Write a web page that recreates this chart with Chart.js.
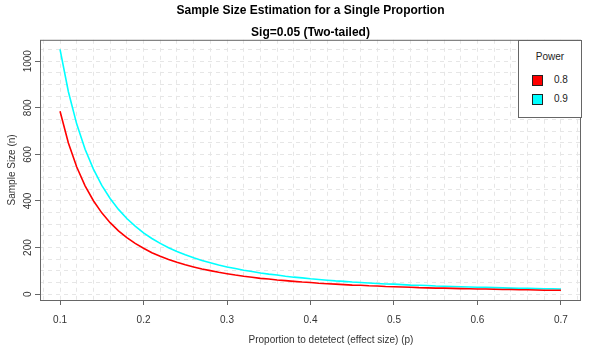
<!DOCTYPE html>
<html>
<head>
  <title>Sample Size Estimation</title>
  <script src="https://cdn.jsdelivr.net/npm/chart.js@4.4.0/dist/chart.umd.min.js"></script>
  <style>
    body { margin: 0; background: #fff; font-family: "Liberation Sans", Arial, sans-serif; }
    #wrap { position: relative; width: 602px; height: 352px; }
    #legend { position: absolute; left: 518px; top: 40px; width: 62px; height: 76px;
              border: 1px solid #666; background: #fff; font-size: 10px; color: #222; }
    #legend .ttl { position: absolute; left: 0; width: 62px; top: 10px; text-align: center; }
    #legend .sw { position: absolute; left: 13px; width: 9px; height: 9px; border: 1px solid #222; }
    #legend .lb { position: absolute; left: 35px; }
    #xtitle { position: absolute; left: 231px; width: 200px; top: 334px; text-align: center;
              font-size: 10px; color: #333; white-space: nowrap; }
  </style>
</head>
<body>
<div id="wrap">
  <canvas id="myChart" width="602" height="352"></canvas>
  <div id="legend"></div>
  <div id="xtitle">Proportion to detetect (effect size) (p)</div>
</div>
<script>
  // effect size p and required sample sizes
  const proportions = [0.10, 0.11, 0.12, 0.13, 0.14, 0.15, 0.16, 0.17, 0.18, 0.19,
                       0.20, 0.21, 0.22, 0.23, 0.24, 0.25, 0.26, 0.27, 0.28, 0.29,
                       0.30, 0.31, 0.32, 0.33, 0.34, 0.35, 0.36, 0.37, 0.38, 0.39,
                       0.40, 0.41, 0.42, 0.43, 0.44, 0.45, 0.46, 0.47, 0.48, 0.49,
                       0.50, 0.51, 0.52, 0.53, 0.54, 0.55, 0.56, 0.57, 0.58, 0.59,
                       0.60, 0.61, 0.62, 0.63, 0.64, 0.65, 0.66, 0.67, 0.68, 0.69, 0.70];
  const power80 = [785, 649, 546, 465, 401, 349, 307, 272, 243, 218,
                   197, 178, 163, 149, 137, 126, 117, 108, 101, 94,
                   88, 82, 77, 73, 68, 65, 61, 58, 55, 52,
                   50, 47, 45, 43, 41, 39, 38, 36, 35, 33,
                   32, 31, 30, 28, 27, 26, 26, 25, 24, 23,
                   22, 22, 21, 20, 20, 19, 19, 18, 17, 17, 17];
  const power90 = [1051, 869, 730, 622, 537, 467, 411, 364, 325, 292,
                   263, 239, 218, 199, 183, 169, 156, 145, 135, 125,
                   117, 110, 103, 97, 91, 86, 82, 77, 73, 70,
                   66, 63, 60, 57, 55, 52, 50, 48, 46, 44,
                   43, 41, 39, 38, 37, 35, 34, 33, 32, 31,
                   30, 29, 28, 27, 26, 25, 25, 24, 23, 23, 22];
  const powerLabels = ['0.8', '0.9'];
  const powerColors = ['#ff0000', '#00ffff'];

  const FONT = '"Liberation Sans", Arial, sans-serif';

  function toPoints(ys) {
    return proportions.map((p, i) => ({ x: p, y: ys[i] }));
  }

  // box round the plot region like R's box()
  const frame = {
    id: 'frame',
    afterDraw(chart) {
      const a = chart.chartArea, c = chart.ctx;
      c.save();
      c.strokeStyle = '#666';
      c.lineWidth = 1;
      c.strokeRect(a.left + 0.5, a.top + 0.5, a.right - a.left - 1, a.bottom - a.top);
      c.restore();
    }
  };

  const isMultiple = (v, step) => Math.abs(v / step - Math.round(v / step)) < 1e-6;

  var ctx = document.getElementById('myChart').getContext('2d');
  var myChart = new Chart(ctx, {
    type: 'line',
    data: {
      datasets: [power80, power90].map((ys, i) => ({
        label: powerLabels[i],
        data: toPoints(ys),
        borderColor: powerColors[i],
        backgroundColor: powerColors[i],
        borderWidth: 1.6,
        pointRadius: 0,
        tension: 0,
        fill: false
      }))
    },
    options: {
      responsive: false,
      animation: false,
      layout: { padding: { left: 0, right: 21, top: 0, bottom: 0 } },
      scales: {
        x: {
          type: 'linear',
          min: 0.076,
          max: 0.724,
          afterFit: s => { s.height = 52; },
          border: { display: false, dash: [4, 4] },
          grid: {
            color: '#e6e6e6',
            tickLength: 5,
            tickColor: c => isMultiple(c.tick.value, 0.1) ? '#666' : 'rgba(0,0,0,0)'
          },
          ticks: {
            stepSize: 0.02,
            includeBounds: false,
            autoSkip: false,
            maxRotation: 0,
            padding: 9,
            color: '#333',
            font: { family: FONT, size: 10 },
            callback: v => isMultiple(v, 0.1) ? (Math.round(v * 10) / 10).toString() : ''
          }
        },
        y: {
          min: -25,
          max: 1092,
          afterFit: s => { s.width = 40; },
          border: { display: false, dash: [4, 4] },
          grid: {
            color: '#e6e6e6',
            tickLength: 5,
            tickColor: c => isMultiple(c.tick.value, 200) ? '#666' : 'rgba(0,0,0,0)'
          },
          ticks: {
            stepSize: 50,
            includeBounds: false,
            autoSkip: false,
            minRotation: 90,
            maxRotation: 90,
            crossAlign: 'center',
            padding: -4,
            color: '#333',
            font: { family: FONT, size: 10 },
            callback: v => isMultiple(v, 200) ? String(v) : ''
          },
          title: {
            display: true,
            text: 'Sample Size (n)',
            color: '#333',
            font: { family: FONT, size: 10 },
            padding: { top: 6, bottom: 0 }
          }
        }
      },
      plugins: {
        legend: { display: false },
        tooltip: { enabled: false },
        title: {
          display: true,
          fullSize: false,
          text: 'Sample Size Estimation for a Single Proportion',
          color: '#000',
          font: { family: FONT, size: 12, weight: 'bold' },
          padding: { top: 3, bottom: 8 }
        },
        subtitle: {
          display: true,
          fullSize: false,
          text: 'Sig=0.05 (Two-tailed)',
          color: '#000',
          font: { family: FONT, size: 12, weight: 'bold' },
          padding: { top: 0, bottom: 0 }
        }
      }
    },
    plugins: [frame]
  });

  // legend box (top right, inside the plot frame)
  const legend = document.getElementById('legend');
  legend.innerHTML = '<div class="ttl">Power</div>' + powerLabels.map((lab, i) =>
    '<div class="sw" style="top:' + (34 + i * 19) + 'px;background:' + powerColors[i] + '"></div>' +
    '<div class="lb" style="top:' + (33 + i * 19) + 'px">' + lab + '</div>').join('');
</script>
</body>
</html>
